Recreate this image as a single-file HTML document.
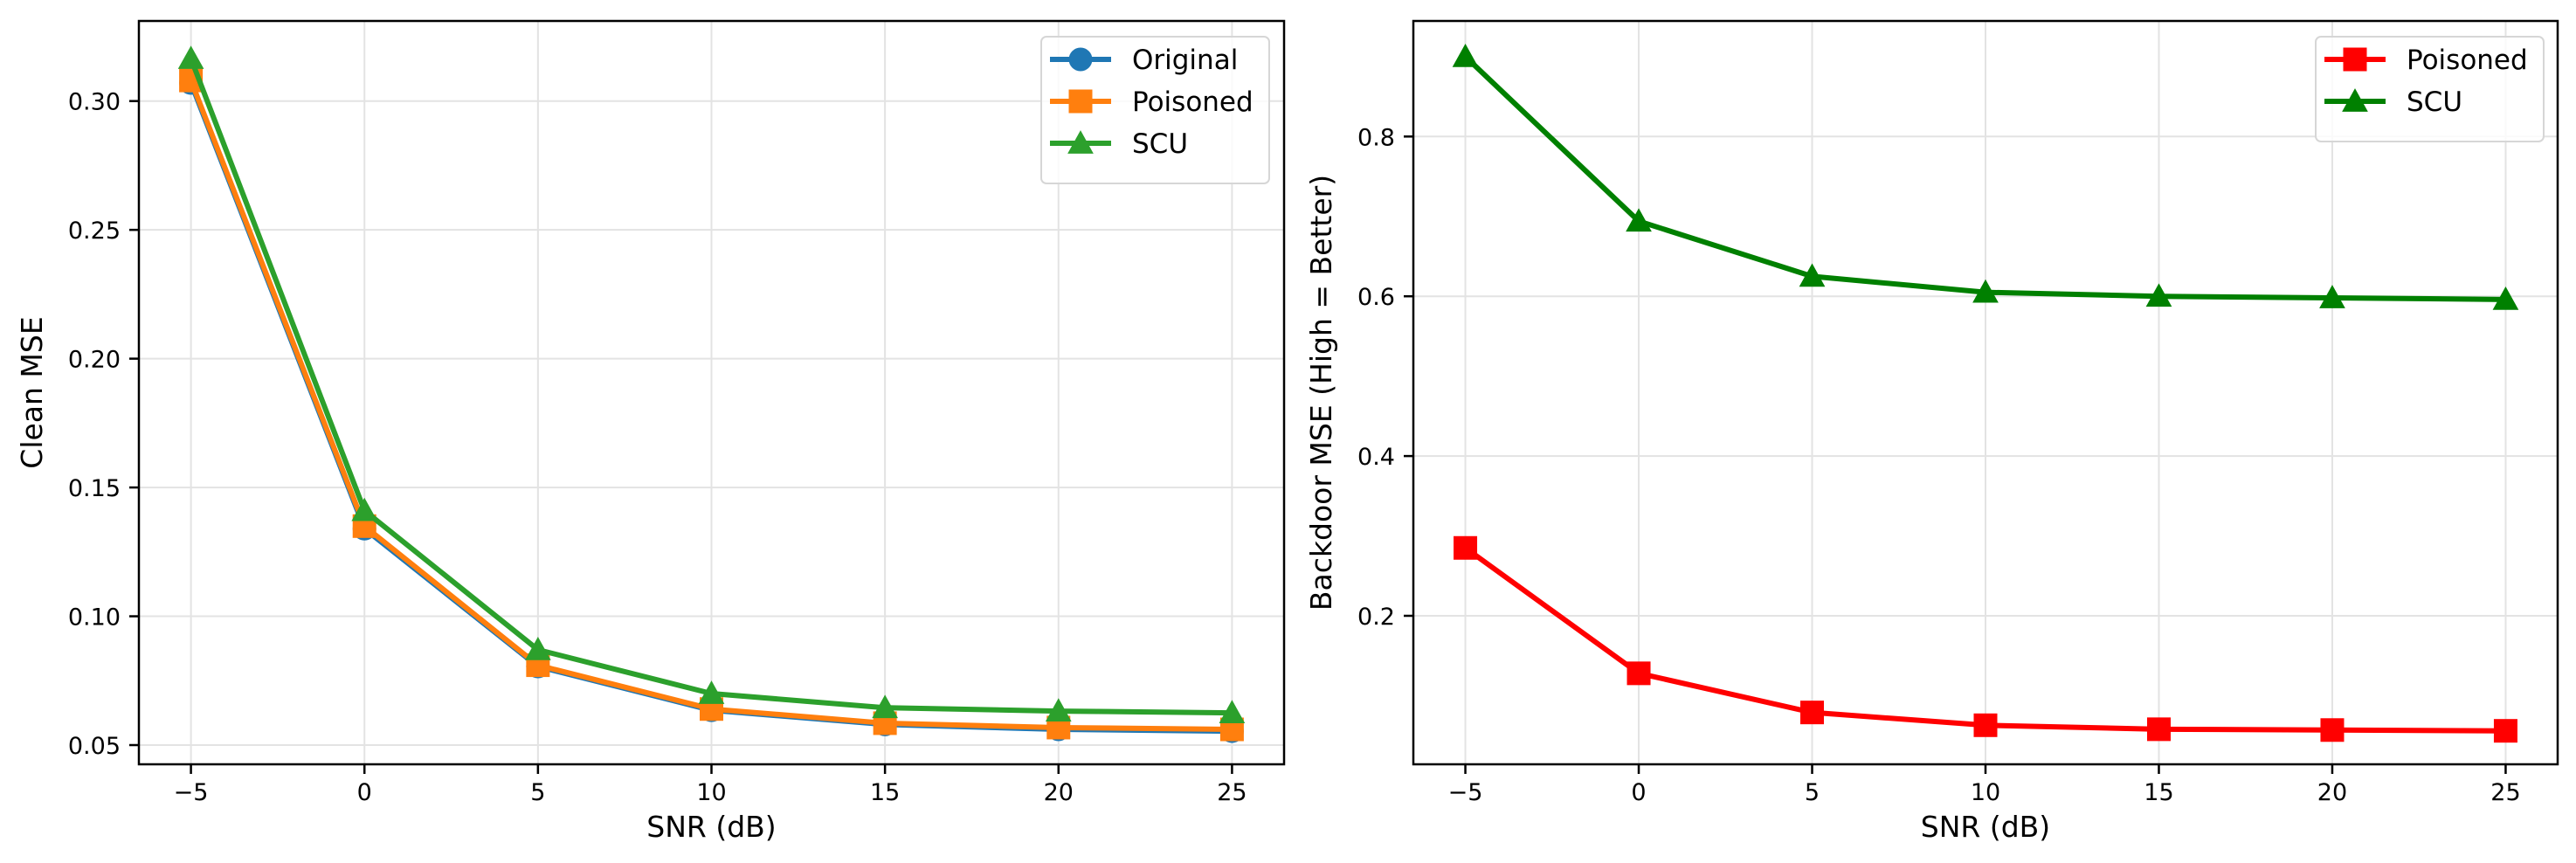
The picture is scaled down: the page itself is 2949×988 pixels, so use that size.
<!DOCTYPE html>
<html><head><meta charset="utf-8"><style>
html,body{margin:0;padding:0;background:#fff;}
svg{display:block;}
text{font-family:"DejaVu Sans","Liberation Sans",sans-serif;fill:#000;}
</style></head><body>
<svg id="fig" width="2949" height="988" viewBox="0 0 2949 988" xmlns="http://www.w3.org/2000/svg"></svg>
<script>
const snr = [-5, 0, 5, 10, 15, 20, 25];
const xTicks = [-5, 0, 5, 10, 15, 20, 25];
const cleanOriginal = [0.307, 0.134, 0.0805, 0.0635, 0.058, 0.0561, 0.0554];
const cleanPoisoned = [0.308, 0.135, 0.081, 0.064, 0.0585, 0.0568, 0.0561];
const cleanSCU = [0.3165, 0.141, 0.087, 0.070, 0.0645, 0.0632, 0.0625];
const leftYTicks = [0.05, 0.10, 0.15, 0.20, 0.25, 0.30];
const leftYTickLabels = ["0.05", "0.10", "0.15", "0.20", "0.25", "0.30"];
const bdPoisoned = [0.285, 0.128, 0.079, 0.063, 0.058, 0.057, 0.056];
const bdSCU = [0.900, 0.694, 0.625, 0.605, 0.600, 0.598, 0.596];
const rightYTicks = [0.2, 0.4, 0.6, 0.8];
const rightYTickLabels = ["0.2", "0.4", "0.6", "0.8"];

const NS = "http://www.w3.org/2000/svg";
const svg = document.getElementById('fig');
function mk(tag, attrs, parent) {
  const e = document.createElementNS(NS, tag);
  for (const k in attrs) e.setAttribute(k, attrs[k]);
  (parent || svg).appendChild(e);
  return e;
}
function marker(g, type, cx, cy, color, s) {
  let m;
  if (type === 'circle') m = mk('circle', {cx: cx, cy: cy, r: s / 2, fill: color}, g);
  else if (type === 'square') m = mk('rect', {x: cx - s / 2, y: cy - s / 2, width: s, height: s, fill: color}, g);
  else { const h = s * 0.55; m = mk('polygon', {points: `${cx},${cy - h} ${cx - h},${cy + h * 0.8} ${cx + h},${cy + h * 0.8}`, fill: color}, g); }
  return m;
}
function panel(cfg) {
  const {L, R, T, B, xmin, xmax, ymap, yTicks, yLabels, series, ylabel, ylabelX, legend} = cfg;
  const xs = v => L + (v - xmin) / (xmax - xmin) * (R - L);
  const g = mk('g', {});
  
  
  // grid
  xTicks.forEach(t => {
    const l = mk('line', {x1: xs(t), x2: xs(t), y1: T, y2: B, stroke: '#e3e3e3', 'stroke-width': 2}, g);
    
    
  });
  yTicks.forEach(t => {
    const l = mk('line', {x1: L, x2: R, y1: ymap(t), y2: ymap(t), stroke: '#e3e3e3', 'stroke-width': 2}, g);
    
    
  });
  // series
  series.forEach(s => {
    const sg = mk('g', {}, g);
    
    
    const pts = snr.map((x, i) => xs(x) + ',' + ymap(s.data[i])).join(' ');
    mk('polyline', {points: pts, fill: 'none', stroke: s.color, 'stroke-width': 6, 'stroke-linejoin': 'round'}, sg);
    snr.forEach((x, i) => {
      const m = marker(sg, s.marker, xs(x), ymap(s.data[i]), s.color, 27);
      
      
    });
  });
  // frame
  const fr = mk('rect', {x: L, y: T, width: R - L, height: B - T, fill: 'none', stroke: '#000', 'stroke-width': 2.5}, g);
  
  
  // x ticks
  xTicks.forEach(t => {
    mk('line', {x1: xs(t), x2: xs(t), y1: B, y2: B + 11, stroke: '#000', 'stroke-width': 2.5}, g);
    const tx = mk('text', {x: xs(t), y: 916, 'font-size': 27, 'text-anchor': 'middle'}, g);
    tx.textContent = t < 0 ? '\u2212' + Math.abs(t) : String(t);
    
    
  });
  yTicks.forEach((t, i) => {
    mk('line', {x1: L - 11, x2: L, y1: ymap(t), y2: ymap(t), stroke: '#000', 'stroke-width': 2.5}, g);
    const tx = mk('text', {x: L - 21, y: ymap(t) + 10, 'font-size': 27, 'text-anchor': 'end'}, g);
    tx.textContent = yLabels[i];
    
    
  });
  const xl = mk('text', {x: (L + R) / 2, y: 958, 'font-size': 33, 'text-anchor': 'middle'}, g);
  xl.textContent = 'SNR (dB)';
  
  
  const yl = mk('text', {x: 0, y: 0, 'font-size': 33, 'text-anchor': 'middle', transform: `translate(${ylabelX},${(T + B) / 2}) rotate(-90)`}, g);
  yl.textContent = ylabel;
  
  
  // legend
  const lg = mk('g', {}, g);
  
  
  mk('rect', {x: legend.x, y: 42, width: legend.w, height: 24 + series.length * 48, rx: 6, fill: '#fff', 'fill-opacity': 0.8, stroke: '#d6d6d6', 'stroke-width': 2}, lg);
  series.forEach((s, i) => {
    const eg = mk('g', {}, lg);
    
    
    const cy = 68 + i * 48;
    mk('line', {x1: legend.x + 10, x2: legend.x + 80, y1: cy, y2: cy, stroke: s.color, 'stroke-width': 6}, eg);
    marker(eg, s.marker, legend.x + 45, cy, s.color, 27);
    const t = mk('text', {x: legend.x + 104, y: cy + 11, 'font-size': 31}, eg);
    t.textContent = s.label;
  });
}
const lT = 24, lB = 875;
const leftY = v => 853 - (v - 0.05) * (853 - 115.7) / 0.25;
panel({name: 'clean-mse-chart', L: 159, R: 1470, T: lT, B: lB, xmin: -6.5, xmax: 26.5, ymap: leftY,
  yTicks: leftYTicks, yLabels: leftYTickLabels, ylabel: 'Clean MSE', ylabelX: 48,
  legend: {x: 1192, w: 261},
  series: [
    {name: 'original-series', label: 'Original', data: cleanOriginal, color: '#1f77b4', marker: 'circle'},
    {name: 'poisoned-series', label: 'Poisoned', data: cleanPoisoned, color: '#ff7f0e', marker: 'square'},
    {name: 'scu-series', label: 'SCU', data: cleanSCU, color: '#2ca02c', marker: 'triangle'}
  ]});
const rightY = v => 705 - (v - 0.2) * (705 - 156.3) / 0.6;
panel({name: 'backdoor-mse-chart', L: 1618, R: 2928, T: lT, B: lB, xmin: -6.5, xmax: 26.5, ymap: rightY,
  yTicks: rightYTicks, yLabels: rightYTickLabels, ylabel: 'Backdoor MSE (High = Better)', ylabelX: 1524,
  legend: {x: 2651, w: 261},
  series: [
    {name: 'poisoned-series', label: 'Poisoned', data: bdPoisoned, color: '#ff0000', marker: 'square'},
    {name: 'scu-series', label: 'SCU', data: bdSCU, color: '#008000', marker: 'triangle'}
  ]});
</script>
</body></html>
